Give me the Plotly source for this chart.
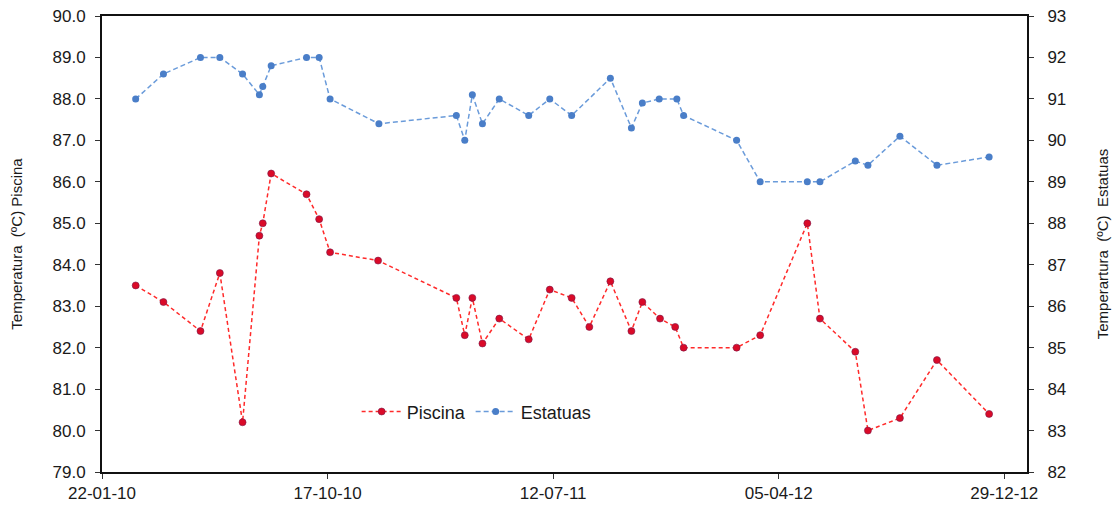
import plotly.graph_objects as go

# ---- data ----
piscina_dates = ["2010-03-03", "2010-04-05", "2010-05-19", "2010-06-11", "2010-07-08",
                 "2010-07-28", "2010-08-01", "2010-08-11", "2010-09-22", "2010-10-07",
                 "2010-10-20", "2010-12-16", "2011-03-19", "2011-03-29", "2011-04-07",
                 "2011-04-19", "2011-05-09", "2011-06-13", "2011-07-08", "2011-08-03",
                 "2011-08-24", "2011-09-18", "2011-10-13", "2011-10-26", "2011-11-16",
                 "2011-12-04", "2011-12-14", "2012-02-15", "2012-03-14", "2012-05-09",
                 "2012-05-24", "2012-07-05", "2012-07-20", "2012-08-27", "2012-10-10",
                 "2012-12-11"]
piscina_values = [83.5, 83.1, 82.4, 83.8, 80.2, 84.7, 85.0, 86.2, 85.7, 85.1,
                  84.3, 84.1, 83.2, 82.3, 83.2, 82.1, 82.7, 82.2, 83.4, 83.2,
                  82.5, 83.6, 82.4, 83.1, 82.7, 82.5, 82.0, 82.0, 82.3, 85.0,
                  82.7, 81.9, 80.0, 80.3, 81.7, 80.4]

estatuas_dates = ["2010-03-03", "2010-04-05", "2010-05-19", "2010-06-11", "2010-07-08",
                  "2010-07-28", "2010-08-01", "2010-08-11", "2010-09-22", "2010-10-07",
                  "2010-10-20", "2010-12-17", "2011-03-19", "2011-03-29", "2011-04-07",
                  "2011-04-19", "2011-05-09", "2011-06-13", "2011-07-08", "2011-08-03",
                  "2011-09-18", "2011-10-13", "2011-10-26", "2011-11-15", "2011-12-06",
                  "2011-12-14", "2012-02-15", "2012-03-14", "2012-05-09", "2012-05-24",
                  "2012-07-05", "2012-07-20", "2012-08-27", "2012-10-10", "2012-12-11"]
estatuas_values = [91.0, 91.6, 92.0, 92.0, 91.6, 91.1, 91.3, 91.8, 92.0, 92.0,
                   91.0, 90.4, 90.6, 90.0, 91.1, 90.4, 91.0, 90.6, 91.0, 90.6,
                   91.5, 90.3, 90.9, 91.0, 91.0, 90.6, 90.0, 89.0, 89.0, 89.0,
                   89.5, 89.4, 90.1, 89.4, 89.6]

x_tick_dates = ["2010-01-22", "2010-10-17", "2011-07-12", "2012-04-05", "2012-12-29"]
x_tick_labels = ["22-01-10", "17-10-10", "12-07-11", "05-04-12", "29-12-12"]
x_range = ["2010-01-22", "2013-01-25"]

left_range = [79, 90]
right_range = [82, 93]

FONT = "Liberation Sans, Arial, sans-serif"
TXT = "#1a1a1a"

fig = go.Figure()
fig.add_trace(go.Scatter(
    x=piscina_dates, y=piscina_values, name="Piscina", mode="lines+markers",
    line=dict(color="#FF2A2A", width=1.5, dash="4px,3px"),
    marker=dict(color="#DA0A28", size=7, line=dict(color="#7A1848", width=0.6)),
    yaxis="y"))
fig.add_trace(go.Scatter(
    x=estatuas_dates, y=estatuas_values, name="Estatuas", mode="lines+markers",
    line=dict(color="#6A9BDA", width=1.5, dash="5px,3px"),
    marker=dict(color="#4A7EC8", size=7),
    yaxis="y2"))

axis_common = dict(showgrid=False, zeroline=False, ticks="outside", ticklen=5,
                   tickwidth=1.2, tickcolor="#333", linecolor="#111", linewidth=2,
                   automargin=False, ticklabeloverflow="allow",
                   tickfont=dict(family=FONT, size=17, color=TXT))

fig.update_layout(
    width=1119, height=506,
    margin=dict(l=102, r=92, t=16, b=34, autoexpand=False),
    paper_bgcolor="white", plot_bgcolor="white",
    font=dict(family=FONT, color=TXT),
    xaxis=dict(type="date", range=x_range, tickvals=x_tick_dates, ticktext=x_tick_labels,
               mirror=True, **axis_common),
    yaxis=dict(range=left_range, dtick=1, tick0=79, tickformat=".1f",
               title=dict(text="Temperatura \u00a0(ºC) Piscina", standoff=26,
                          font=dict(family=FONT, size=15, color=TXT)),
               ticklabelstandoff=6, **axis_common),
    yaxis2=dict(range=right_range, dtick=1, tick0=82, overlaying="y", side="right",
                title=dict(text="Temperartura \u00a0(ºC) \u00a0Estatuas", standoff=32,
                           font=dict(family=FONT, size=15, color=TXT)),
                ticklabelstandoff=10, **axis_common),
    legend=dict(orientation="h", x=0.405, y=0.132, xanchor="center", yanchor="middle",
                bgcolor="rgba(0,0,0,0)", font=dict(family=FONT, size=18, color=TXT),
                itemwidth=40, tracegroupgap=0),
    showlegend=True,
)

fig.write_html("out.html", config={"displayModeBar": False},
               post_script="document.body.style.margin='0';document.body.style.overflow='hidden';")
